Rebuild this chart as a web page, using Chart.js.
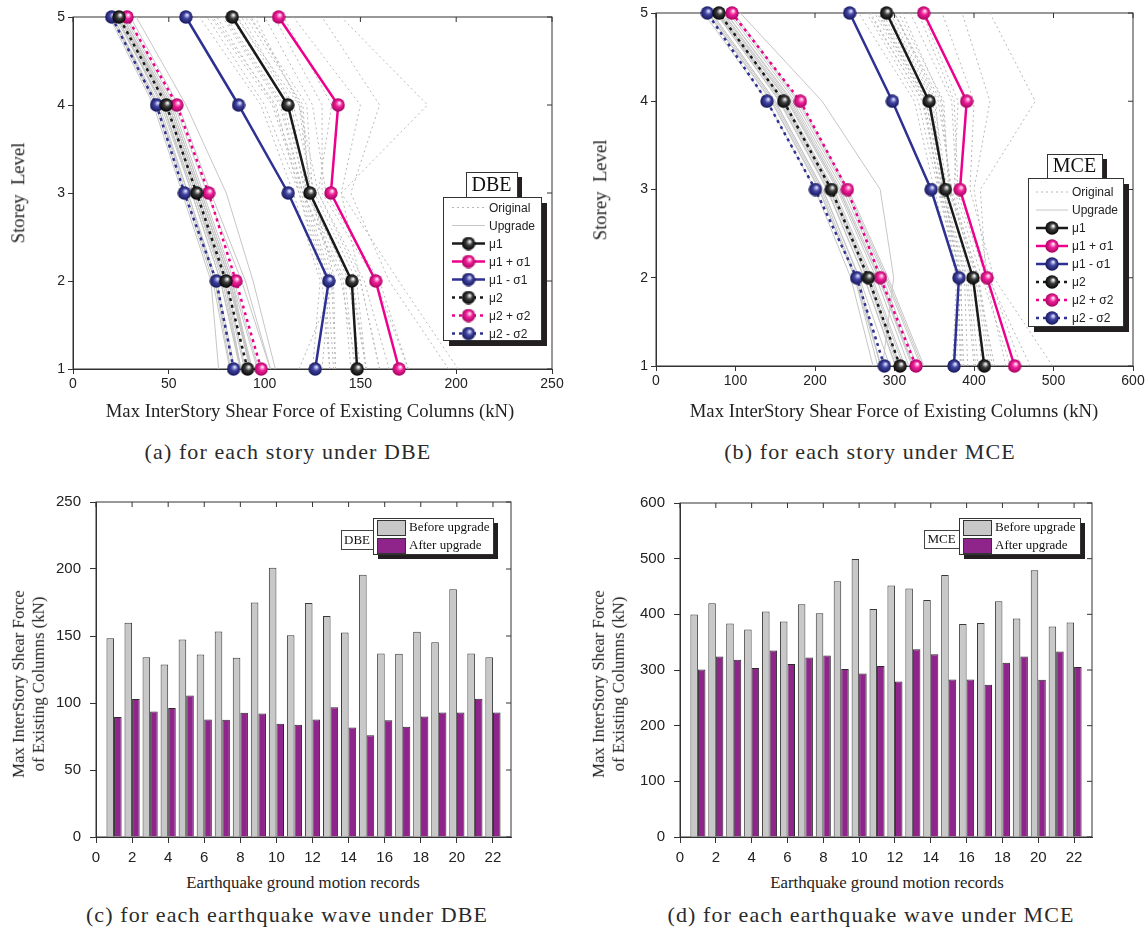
<!DOCTYPE html>
<html>
<head>
<meta charset="utf-8">
<script src="https://cdn.jsdelivr.net/npm/chart.js@4.4.0/dist/chart.umd.min.js"></script>
<style>
body { margin: 0; background: #fff; }
#page { position: relative; width: 1148px; height: 933px; overflow: hidden; background: #fff; color: #222; font-family: "Liberation Serif", serif; }
#page canvas { position: absolute; }
.t { position: absolute; white-space: nowrap; line-height: 1.15; transform: translate(-50%, -50%); }
.v { transform: translate(-50%, -50%) rotate(-90deg); text-align: center; }
.axis { font-size: 18.7px; }
.axis2 { font-size: 16.8px; line-height: 1.2; }
.cap { font-size: 22px; letter-spacing: 1.1px; color: #2a2a2a; }
</style>
</head>
<body>
<div id="page">
  <canvas id="chartA" width="575" height="430" style="left:0;top:0"></canvas>
  <canvas id="chartB" width="573" height="430" style="left:575px;top:0"></canvas>
  <canvas id="chartC" width="575" height="400" style="left:0;top:470px"></canvas>
  <canvas id="chartD" width="573" height="400" style="left:575px;top:470px"></canvas>

  <div class="t axis" style="left:310px;top:411px">Max InterStory Shear Force of Existing Columns (kN)</div>
  <div class="t axis v" style="left:18px;top:193px">Storey&nbsp;&nbsp;Level</div>
  <div class="t axis" style="left:894px;top:411px">Max InterStory Shear Force of Existing Columns (kN)</div>
  <div class="t axis v" style="left:600px;top:190px">Storey&nbsp;&nbsp;Level</div>

  <div class="t axis2" style="left:303px;top:883px">Earthquake ground motion records</div>
  <div class="t axis2 v" style="left:29px;top:684px">Max InterStory Shear Force<br>of Existing Columns (kN)</div>
  <div class="t axis2" style="left:887px;top:883px">Earthquake ground motion records</div>
  <div class="t axis2 v" style="left:609px;top:684px">Max InterStory Shear Force<br>of Existing Columns (kN)</div>

  <div class="t cap" style="left:288px;top:452px">(a) for each story under DBE</div>
  <div class="t cap" style="left:870px;top:452px">(b) for each story under MCE</div>
  <div class="t cap" style="left:287px;top:915px">(c) for each earthquake wave under DBE</div>
  <div class="t cap" style="left:871px;top:915px">(d) for each earthquake wave under MCE</div>
</div>
<script>
// storey levels 1..5, every series below is listed in that order
const storeys = [1, 2, 3, 4, 5];
const statLabels = ['μ1', 'μ1 + σ1', 'μ1 - σ1', 'μ2', 'μ2 + σ2', 'μ2 - σ2'];

// DBE - statistics
const dbeMu1 = [148.3, 145.5, 123.6, 112.1, 83.1];
const dbeMu1Plus = [170.2, 158.0, 134.6, 138.4, 107.3];
const dbeMu1Minus = [126.4, 133.5, 112.3, 86.4, 58.9];
const dbeMu2 = [91.1, 79.8, 64.5, 48.7, 24.0];
const dbeMu2Plus = [98.2, 85.0, 70.8, 54.2, 28.2];
const dbeMu2Minus = [83.8, 74.8, 58.1, 43.6, 20.2];

// DBE - each record, original frame
const dbeOriginal = [
  [148, 140, 120, 105, 75], [160, 150, 128, 118, 95], [134, 130, 118, 100, 70],
  [125, 129, 115, 98, 66], [147, 142, 122, 110, 80], [136, 133, 119, 104, 72],
  [153, 148, 126, 115, 88], [130, 134, 120, 108, 78], [175, 160, 132, 125, 100],
  [201, 170, 140, 150, 115], [150, 144, 123, 120, 90], [175, 158, 130, 130, 105],
  [165, 152, 128, 135, 110], [153, 146, 124, 118, 85], [196, 165, 145, 160, 130],
  [137, 135, 121, 112, 82], [118, 137, 125, 122, 92], [153, 145, 122, 114, 86],
  [145, 141, 120, 109, 79], [160, 150, 140, 185, 140], [137, 136, 124, 119, 93],
  [134, 132, 118, 106, 73]
];
// DBE - each record, upgraded frame
const dbeUpgrade = [
  [89.5, 79, 63, 47, 23], [103, 88, 70, 53, 28], [93.7, 82, 66, 50, 25],
  [96.2, 83, 67, 51, 26], [105.6, 94, 80, 59, 33], [87.7, 78, 63, 47, 22],
  [87.5, 77, 62, 46, 23], [92.7, 81, 65, 49, 24], [92.2, 82, 66, 50, 26],
  [84.5, 75, 60, 45, 21], [83.7, 74, 60, 44, 20], [87.7, 79, 64, 48, 24],
  [96.9, 84, 68, 52, 27], [81.8, 73, 58, 43, 20], [76, 72, 57, 42, 19],
  [87.2, 77, 62, 47, 23], [82.3, 74, 59, 44, 21], [90, 80, 64, 49, 25],
  [93, 83, 67, 51, 26], [93, 82, 66, 50, 25], [103.1, 90, 72, 55, 30],
  [93, 81, 65, 49, 24]
];

// MCE - statistics
const mceMu1 = [413, 398.7, 364, 343.4, 290];
const mceMu1Plus = [451, 416.4, 382.4, 390.8, 336.7];
const mceMu1Minus = [374.8, 381, 346, 297.3, 243.6];
const mceMu2 = [307, 267, 220.5, 160.6, 79.2];
const mceMu2Plus = [327, 282.2, 240.7, 181.6, 95.6];
const mceMu2Minus = [287.2, 252.4, 200.4, 139.6, 64.6];

const mceOriginal = [
  [400, 390, 360, 340, 280], [420, 405, 372, 355, 300], [383, 380, 355, 330, 265],
  [373, 378, 350, 325, 255], [405, 395, 365, 345, 285], [387, 383, 358, 335, 270],
  [418, 402, 370, 360, 310], [402, 392, 362, 342, 282], [459, 420, 380, 375, 330],
  [499, 425, 395, 400, 360], [410, 398, 366, 350, 295], [452, 415, 378, 372, 320],
  [446, 410, 375, 380, 335], [426, 404, 368, 362, 305], [471, 418, 400, 420, 385],
  [383, 381, 356, 338, 275], [375, 385, 360, 352, 300], [423, 406, 370, 358, 300],
  [392, 388, 360, 340, 278], [440, 415, 408, 477, 420], [378, 382, 362, 348, 292],
  [385, 384, 357, 336, 268]
];
const mceUpgrade = [
  [301, 262, 215, 155, 76], [324, 282, 232, 170, 88], [318, 277, 228, 165, 82],
  [304, 265, 218, 158, 78], [335, 290, 240, 178, 95], [311, 270, 222, 160, 80],
  [322, 280, 230, 168, 85], [285, 299, 282, 209, 106], [302, 262, 216, 156, 75],
  [294, 256, 210, 150, 70], [307, 268, 221, 160, 79], [279, 250, 205, 145, 65],
  [337, 292, 242, 180, 98], [328, 285, 235, 172, 88], [283, 252, 208, 148, 68],
  [283, 250, 206, 146, 66], [273, 245, 200, 140, 60], [313, 272, 224, 162, 80],
  [324, 280, 230, 166, 84], [282, 255, 210, 150, 70], [333, 288, 238, 175, 92],
  [306, 266, 219, 158, 77]
];

// bar charts: max shear per earthquake record
const records = [1, 2, 3, 4, 5, 6, 7, 8, 9, 10, 11, 12, 13, 14, 15, 16, 17, 18, 19, 20, 21, 22];
const dbeBefore = [148.4, 159.8, 134.2, 128.7, 147.4, 136.2, 153.3, 133.7, 175, 201, 150.6,
  174.7, 165, 152.6, 195.8, 136.9, 136.7, 153.1, 145.4, 184.9, 136.9, 134.2];
const dbeAfter = [89.5, 102.9, 93.7, 96.2, 105.6, 87.7, 87.5, 92.7, 92.2, 84.5, 83.7,
  87.7, 96.9, 81.8, 76, 87.2, 82.3, 90, 93, 93, 103.1, 93];
const mceBefore = [399.5, 419.9, 383.4, 372.6, 404.9, 387, 418, 401.9, 459.3, 499.4, 409.7,
  451.6, 446.2, 425.8, 470.7, 382.8, 384.6, 423.4, 392.3, 479, 378, 385.2];
const mceAfter = [300.8, 324.2, 318.2, 303.8, 334.9, 311, 322.4, 326, 302, 293.7, 307.4,
  279.3, 337.3, 328.3, 282.9, 282.9, 273.3, 312.8, 324.2, 282.3, 333.1, 305.6];

const AXIS = '#333';
const BLACK = '#1a1a1a', PINK = '#ec008c', BLUE = '#2e3192';

// little shaded balls used as markers
function sphere(light, base, dark) {
    const d = 14;
    const c = document.createElement('canvas');
    c.width = d; c.height = d;
    const g = c.getContext('2d');
    const r = d / 2;
    const grad = g.createRadialGradient(r * 1.2, r * 0.7, 0.5, r, r, r);
    grad.addColorStop(0, light);
    grad.addColorStop(0.4, base);
    grad.addColorStop(1, dark);
    g.fillStyle = grad;
    g.beginPath();
    g.arc(r, r, r - 0.3, 0, Math.PI * 2);
    g.fill();
    return c;
}
const ballBlack = sphere('#f2f2f2', '#3c3c3c', '#000');
const ballPink = sphere('#ffe2f2', '#f0209a', '#a1005c');
const ballBlue = sphere('#dcdcff', '#40449f', '#141558');

const statStyles = [
    { color: BLACK, dash: [], ball: ballBlack },
    { color: PINK, dash: [], ball: ballPink },
    { color: BLUE, dash: [], ball: ballBlue },
    { color: BLACK, dash: [3, 4], ball: ballBlack },
    { color: PINK, dash: [3, 4], ball: ballPink },
    { color: BLUE, dash: [3, 4], ball: ballBlue }
];
const originalStyle = { color: '#b8b8b8', dash: [2, 3], width: 1 };
const upgradeStyle = { color: '#c6c6c6', dash: [], width: 1 };

function toXY(vals) {
    return vals.map((v, i) => ({ x: v, y: storeys[i] }));
}

// box around the plot + inward ticks on top and right
const framePlugin = {
    id: 'frame',
    beforeDatasetsDraw(chart) {
        const { ctx, chartArea: a, scales } = chart;
        ctx.save();
        ctx.strokeStyle = AXIS;
        ctx.lineWidth = 1;
        ctx.strokeRect(a.left, a.top, a.right - a.left, a.bottom - a.top);
        ctx.beginPath();
        scales.x.ticks.forEach(t => {
            const px = scales.x.getPixelForValue(t.value);
            ctx.moveTo(px, a.top); ctx.lineTo(px, a.top + 5);
        });
        scales.y.ticks.forEach(t => {
            const py = scales.y.getPixelForValue(t.value);
            ctx.moveTo(a.right, py); ctx.lineTo(a.right - 5, py);
        });
        ctx.stroke();
        ctx.restore();
    }
};

function shadowBox(ctx, x, y, w, h, off) {
    ctx.fillStyle = '#231f20';
    ctx.fillRect(x + off, y + off, w, h);
    ctx.fillStyle = '#fff';
    ctx.fillRect(x, y, w, h);
    ctx.strokeStyle = '#333';
    ctx.lineWidth = 1;
    ctx.strokeRect(x + 0.5, y + 0.5, w, h);
}

// legend of the storey charts, drawn inside the plot
function storeyLegend(spec) {
    return {
        id: 'storeyLegend',
        afterDatasetsDraw(chart) {
            const ctx = chart.ctx;
            ctx.save();
            const [tx, ty, tw, th] = spec.tagBox;
            shadowBox(ctx, tx, ty, tw, th, 5);
            ctx.fillStyle = '#111';
            ctx.font = '20px "Liberation Serif"';
            ctx.textAlign = 'center';
            ctx.textBaseline = 'middle';
            ctx.fillText(spec.tag, tx + tw / 2, ty + th / 2 + 1);

            const [bx, by, bw, bh] = spec.box;
            shadowBox(ctx, bx, by, bw, bh, 6);

            const items = [
                { label: 'Original', style: originalStyle },
                { label: 'Upgrade', style: upgradeStyle }
            ].concat(statLabels.map((l, i) => ({ label: l, style: statStyles[i] })));

            ctx.font = '12px "Liberation Sans"';
            ctx.textAlign = 'left';
            items.forEach((it, i) => {
                const y = spec.rowY + i * spec.rowStep;
                const s = it.style;
                ctx.strokeStyle = s.color;
                ctx.lineWidth = s.width || 2.5;
                ctx.setLineDash(s.dash);
                ctx.beginPath();
                ctx.moveTo(spec.sample[0], y);
                ctx.lineTo(spec.sample[1], y);
                ctx.stroke();
                ctx.setLineDash([]);
                if (s.ball) {
                    const mx = (spec.sample[0] + spec.sample[1]) / 2;
                    ctx.drawImage(s.ball, mx - 7, y - 7, 14, 14);
                }
                ctx.fillStyle = '#222';
                ctx.fillText(it.label, spec.textX, y + 1);
            });
            ctx.restore();
        }
    };
}

function barLegend(spec) {
    return {
        id: 'barLegend',
        afterDatasetsDraw(chart) {
            const ctx = chart.ctx;
            ctx.save();
            const [tx, ty, tw, th] = spec.tagBox;
            ctx.fillStyle = '#fff';
            ctx.fillRect(tx, ty, tw, th);
            ctx.strokeStyle = '#444';
            ctx.lineWidth = 1;
            ctx.strokeRect(tx + 0.5, ty + 0.5, tw, th);
            ctx.fillStyle = '#111';
            ctx.font = '13px "Liberation Serif"';
            ctx.textAlign = 'center';
            ctx.textBaseline = 'middle';
            ctx.fillText(spec.tag, tx + tw / 2, ty + th / 2 + 1);

            const [bx, by, bw, bh] = spec.box;
            shadowBox(ctx, bx, by, bw, bh, 5);
            ctx.textAlign = 'left';
            chart.data.datasets.forEach((ds, i) => {
                const y = by + 2 + i * 18;
                ctx.fillStyle = ds.backgroundColor;
                ctx.fillRect(bx + 4, y, 28, 15);
                ctx.strokeStyle = '#333';
                ctx.strokeRect(bx + 4.5, y + 0.5, 28, 15);
                ctx.fillStyle = '#111';
                ctx.fillText(ds.label, bx + 36, y + 8);
            });
            ctx.restore();
        }
    };
}

function storeyChart(id, opts) {
    const datasets = [];
    opts.stats.forEach((vals, i) => {
        const s = statStyles[i];
        datasets.push({
            label: statLabels[i],
            data: toXY(vals),
            borderColor: s.color,
            borderWidth: 2.5,
            borderDash: s.dash,
            pointStyle: s.ball,
            pointRadius: 7,
            clip: false,
            order: 1
        });
    });
    opts.original.forEach(vals => {
        datasets.push({
            data: toXY(vals), borderColor: originalStyle.color, borderWidth: 1,
            borderDash: originalStyle.dash, pointRadius: 0, order: 3
        });
    });
    opts.upgrade.forEach(vals => {
        datasets.push({
            data: toXY(vals), borderColor: upgradeStyle.color, borderWidth: 1,
            pointRadius: 0, order: 2
        });
    });

    return new Chart(document.getElementById(id), {
        type: 'line',
        data: { datasets },
        options: {
            responsive: false,
            animation: false,
            events: [],
            layout: { padding: opts.padding },
            plugins: { legend: { display: false }, tooltip: { enabled: false } },
            scales: {
                x: {
                    type: 'linear', min: 0, max: opts.xMax,
                    ticks: { stepSize: opts.xStep, color: '#222', padding: 2, font: { family: 'Liberation Sans', size: 14 } },
                    grid: { drawOnChartArea: false, tickLength: 5, color: AXIS },
                    border: { color: AXIS },
                    afterFit(s) { s.height = opts.xHeight; }
                },
                y: {
                    type: 'linear', min: 1, max: 5,
                    ticks: { stepSize: 1, color: '#222', padding: 3, font: { family: 'Liberation Sans', size: 14 } },
                    grid: { drawOnChartArea: false, tickLength: 5, color: AXIS },
                    border: { color: AXIS },
                    afterFit(s) { s.width = opts.yWidth; }
                }
            }
        },
        plugins: [framePlugin, storeyLegend(opts.legend)]
    });
}

function recordChart(id, opts) {
    return new Chart(document.getElementById(id), {
        type: 'bar',
        data: {
            datasets: [
                {
                    label: 'Before upgrade',
                    data: records.map((r, i) => ({ x: r, y: opts.before[i] })),
                    backgroundColor: '#c8c8c8', borderColor: '#3a3a3a', borderWidth: 1
                },
                {
                    label: 'After upgrade',
                    data: records.map((r, i) => ({ x: r, y: opts.after[i] })),
                    backgroundColor: '#8f258b', borderColor: '#2a2a2a', borderWidth: 1
                }
            ]
        },
        options: {
            responsive: false,
            animation: false,
            events: [],
            layout: { padding: opts.padding },
            categoryPercentage: 0.84,
            barPercentage: 1.0,
            plugins: { legend: { display: false }, tooltip: { enabled: false } },
            scales: {
                x: {
                    type: 'linear', min: 0, max: 23, offset: false,
                    ticks: { stepSize: 2, includeBounds: false, color: '#222', padding: 6, font: { family: 'Liberation Sans', size: 15 } },
                    grid: { drawOnChartArea: false, offset: false, tickLength: 6, color: AXIS },
                    border: { color: AXIS },
                    afterFit(s) { s.height = 33; }
                },
                y: {
                    min: 0, max: opts.yMax,
                    ticks: { stepSize: opts.yStep, color: '#222', padding: 9, font: { family: 'Liberation Sans', size: 15 } },
                    grid: { drawOnChartArea: false, tickLength: 6, color: AXIS },
                    border: { color: AXIS },
                    afterFit(s) { s.width = opts.yWidth; }
                }
            }
        },
        plugins: [framePlugin, barLegend(opts.legend)]
    });
}

storeyChart('chartA', {
    stats: [dbeMu1, dbeMu1Plus, dbeMu1Minus, dbeMu2, dbeMu2Plus, dbeMu2Minus],
    original: dbeOriginal, upgrade: dbeUpgrade,
    xMax: 250, xStep: 50,
    padding: { top: 17, right: 23, left: 0, bottom: 0 },
    xHeight: 61, yWidth: 73,
    legend: { tag: 'DBE', tagBox: [466, 172, 51, 25], box: [443, 197, 98, 143], rowY: 207.5, rowStep: 18, sample: [452, 485], textX: 489 }
});

storeyChart('chartB', {
    stats: [mceMu1, mceMu1Plus, mceMu1Minus, mceMu2, mceMu2Plus, mceMu2Minus],
    original: mceOriginal, upgrade: mceUpgrade,
    xMax: 600, xStep: 100,
    padding: { top: 13, right: 15, left: 0, bottom: 0 },
    xHeight: 64, yWidth: 81,
    legend: { tag: 'MCE', tagBox: [472, 154, 55, 24], box: [453, 178, 95, 148], rowY: 192, rowStep: 18, sample: [461, 493], textX: 497 }
});

recordChart('chartC', {
    before: dbeBefore, after: dbeAfter, yMax: 250, yStep: 50,
    padding: { top: 32, right: 64, left: 0, bottom: 0 }, yWidth: 96,
    legend: { tag: 'DBE', tagBox: [341, 60, 32, 19], box: [373, 48, 120, 36] }
});

recordChart('chartD', {
    before: mceBefore, after: mceAfter, yMax: 600, yStep: 100,
    padding: { top: 33, right: 56, left: 0, bottom: 0 }, yWidth: 105,
    legend: { tag: 'MCE', tagBox: [349, 60, 35, 18], box: [384, 48, 121, 36] }
});
</script>
</body>
</html>
